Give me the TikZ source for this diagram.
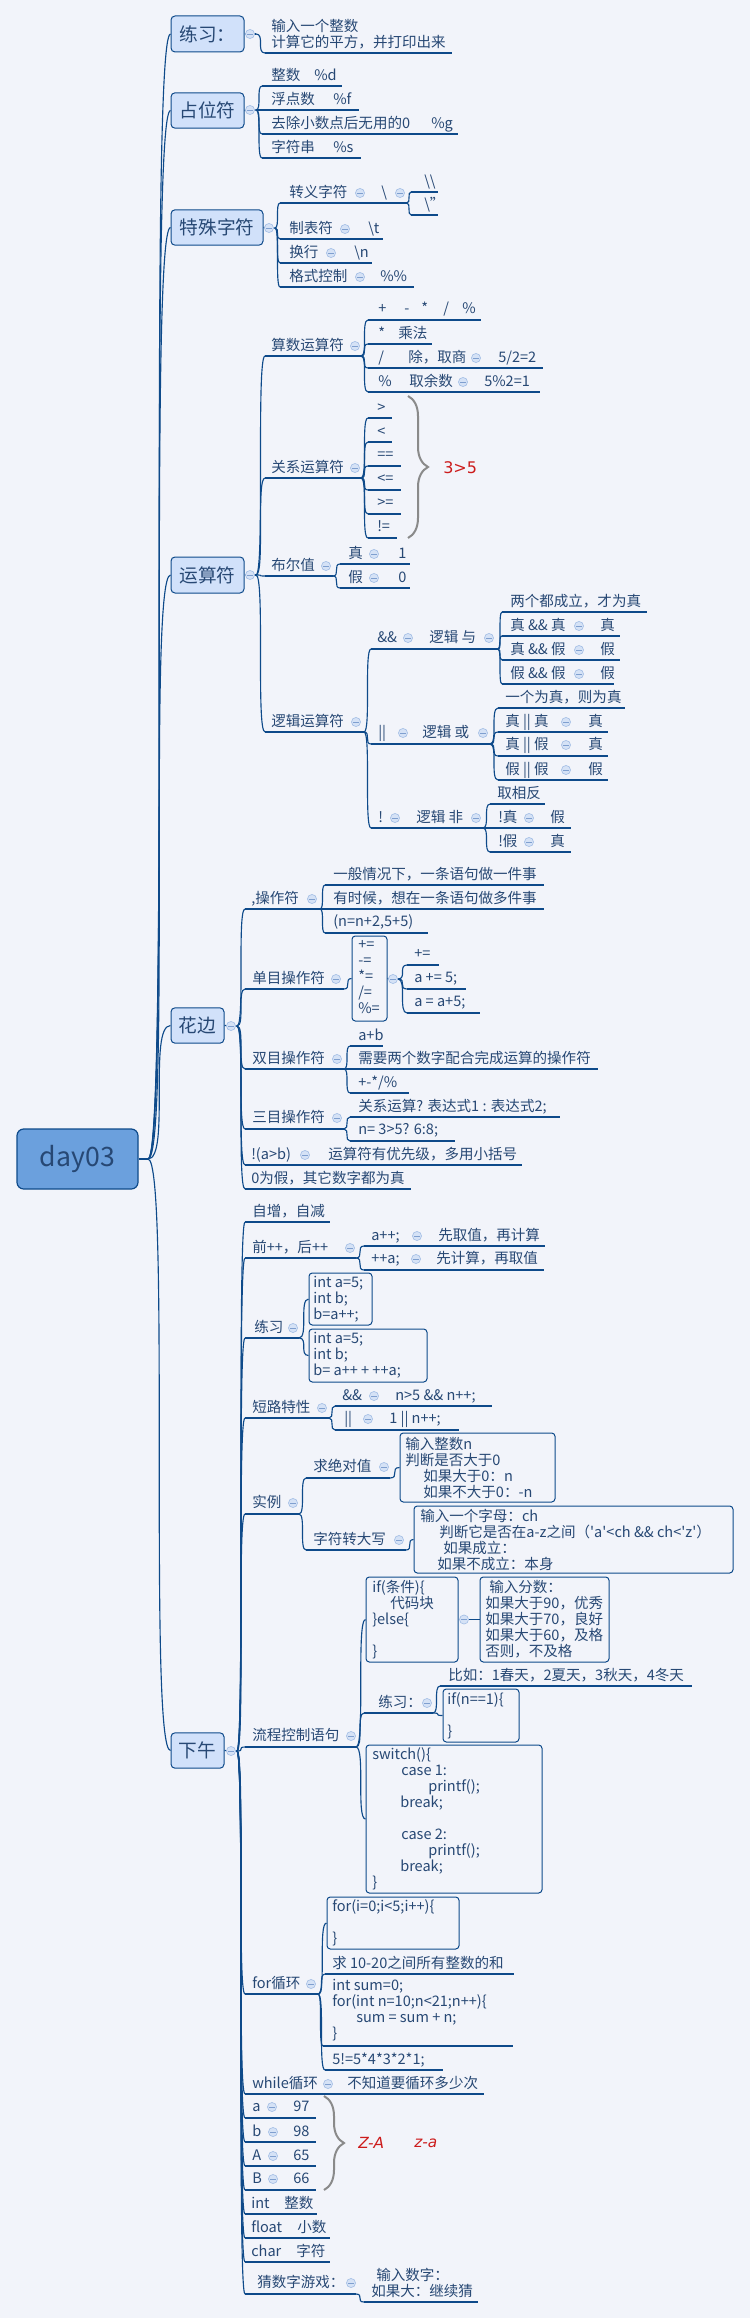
\documentclass[tikz,border=0pt]{standalone}
\usepackage{fontspec}
\setmainfont{Noto Sans CJK SC}
\newfontfamily\redfont{DejaVu Sans}
\usetikzlibrary{decorations.pathreplacing}
\definecolor{bg}{HTML}{F2F4FA}
\definecolor{ln}{HTML}{0E4A8A}
\definecolor{tx}{HTML}{274874}
\definecolor{tpfill}{HTML}{D1E1FA}
\definecolor{rootfill}{HTML}{6BA0DD}
\definecolor{mkfill}{HTML}{D5E2F6}
\definecolor{mkdraw}{HTML}{A7C0E6}
\definecolor{mkline}{HTML}{7F9FCF}
\definecolor{bracegray}{HTML}{8A8A8A}
\definecolor{redt}{HTML}{CC1B1B}
\newcommand\mystrut{\rule[-2.3pt]{0pt}{12pt}}
\newcommand\TXT[3]{\node[txt] (#1) at (#2) {#3};}
\newcommand\MK[2]{\node[mkr] (#1) at (#2) {};}
\newcommand\UL[4]{\coordinate (#1) at (#2,#4);\coordinate (#1e) at (#3,#4);\draw[ulk] (#1) -- (#1e);}
\newcommand\CN[2]{\draw[conn] (#1) .. controls (#2 |- #1) and (#1 |- #2) .. (#2);}
\begin{document}
\begin{tikzpicture}[x=0.75pt,y=-0.75pt,
  txt/.style={anchor=west,inner sep=0pt,text=tx,font=\fontsize{10.9pt}{12pt}\selectfont,align=left,execute at begin node=\mystrut,execute at end node=\mystrut},
  mkr/.style={circle,minimum size=6.8pt,inner sep=0pt,fill=mkfill,draw=mkdraw,line width=0.5pt,
    path picture={\draw[mkline,line width=0.7pt] ([xshift=-1.9pt]path picture bounding box.center) -- ([xshift=1.9pt]path picture bounding box.center);}},
  ulk/.style={ln,line width=0.85pt},
  conn/.style={ln,line width=0.85pt},
  topic/.style={draw=ln,fill=tpfill,rounded corners=3pt,line width=0.75pt,inner sep=0pt,text=tx,font=\fontsize{14pt}{16pt}\selectfont,minimum height=26.5pt},
  cbox/.style={draw=ln,rounded corners=2.5pt,line width=0.75pt,inner sep=0pt},
  bracestyle/.style={decorate,decoration={brace,amplitude=15pt},draw=bracegray,line width=1.5pt},
  redtxt/.style={anchor=west,inner sep=0pt,text=redt,font=\redfont\fontsize{12pt}{14pt}\selectfont}]
\fill[bg] (0,0) rectangle (750,2318);
\useasboundingbox (0,0) rectangle (750,2318);

% root
\node[draw=ln,fill=rootfill,rounded corners=5pt,line width=0.9pt,minimum width=90.75pt,minimum height=45pt,inner sep=0pt,text=tx,font=\fontsize{20pt}{24pt}\selectfont] (root) at (77.5,1159) {day03};
\coordinate (rootp) at (148,1159);
\draw[conn] (root.east) -- (rootp);

% topics
\node[topic,minimum width=54.75pt,minimum height=27pt] (tp1) at (207.5,34) {练习：};
\node[topic,minimum width=54.75pt] (tp2) at (207.5,110.5) {占位符};
\node[topic,minimum width=69pt] (tp3) at (217,227.5) {特殊字符};
\node[topic,minimum width=54.75pt,minimum height=27pt] (tp4) at (207.5,575) {运算符};
\node[topic,minimum width=39.75pt] (tp5) at (197.5,1025.5) {花边};
\node[topic,minimum width=39.75pt] (tp6) at (197.5,1750.5) {下午};
\CN{rootp}{tp1.west}
\CN{rootp}{tp2.west}
\CN{rootp}{tp3.west}
\CN{rootp}{tp4.west}
\CN{rootp}{tp5.west}
\CN{rootp}{tp6.west}

% ---- tp1
\coordinate (p1) at (256,34); \draw[conn] (tp1.east) -- (p1);
\TXT{a1}{271,35}{输入一个整数\\计算它的平方，并打印出来}
\UL{u1}{265}{452}{53}
\CN{p1}{u1}
\MK{m1}{250,34}

% ---- tp2
\coordinate (p2) at (256,110); \draw[conn] (tp2.east) -- (p2);
\TXT{b1}{271,76}{整数} \TXT{b1v}{314,76}{\%d} \UL{ub1}{262}{342}{86}
\TXT{b2}{271,100}{浮点数} \TXT{b2v}{333,100}{\%f} \UL{ub2}{262}{359}{110}
\TXT{b3}{271,124}{去除小数点后无用的0} \TXT{b3v}{431,124}{\%g} \UL{ub3}{262}{458}{134}
\TXT{b4}{271,148}{字符串} \TXT{b4v}{333,148}{\%s} \UL{ub4}{262}{361}{158}
\CN{p2}{ub1} \CN{p2}{ub2} \CN{p2}{ub3} \CN{p2}{ub4}
\MK{m2}{250,110}

% ---- tp3
\coordinate (p3) at (275,228); \draw[conn] (tp3.east) -- (p3);
\TXT{c1}{289,193}{转义字符} \MK{mc1}{360,193} \TXT{c1v}{381,193}{\textbackslash} \MK{mc1b}{400,193}
\UL{uc1}{280}{407}{203}
\TXT{c11}{424,182}{\textbackslash\textbackslash} \UL{uc11}{411}{438}{192}
\TXT{c12}{424,205}{\textbackslash"} \UL{uc12}{411}{438}{215}
\CN{uc1e}{uc11} \CN{uc1e}{uc12}
\TXT{c2}{289,229}{制表符} \MK{mc2}{345,229} \TXT{c2v}{368,229}{\textbackslash t} \UL{uc2}{280}{383}{239}
\TXT{c3}{289,253}{换行} \MK{mc3}{331,253} \TXT{c3v}{354,253}{\textbackslash n} \UL{uc3}{280}{372}{263}
\TXT{c4}{289,277}{格式控制} \MK{mc4}{360,277} \TXT{c4v}{380,277}{\%\%} \UL{uc4}{280}{414}{287}
\CN{p3}{uc1} \CN{p3}{uc2} \CN{p3}{uc3} \CN{p3}{uc4}
\MK{m3}{269,228}

% ---- tp4
\coordinate (p4) at (256,575); \draw[conn] (tp4.east) -- (p4);
\TXT{d1}{271,346}{算数运算符} \MK{md1}{355,346} \UL{ud1}{265}{361}{356}
\TXT{d11a}{378,309}{+} \TXT{d11b}{404,309}{-} \TXT{d11c}{421,309}{*} \TXT{d11d}{443,309}{/} \TXT{d11e}{462,309}{\%} \UL{ud11}{368}{481}{320}
\TXT{d12}{378,334}{*} \TXT{d12v}{398,334}{乘法} \UL{ud12}{368}{432}{344}
\TXT{d13}{378,358}{/} \TXT{d13v}{408,358}{除，取商} \MK{md13}{476,358} \TXT{d13w}{498,358}{5/2=2} \UL{ud13}{368}{543}{368}
\TXT{d14}{378,382}{\%} \TXT{d14v}{409,382}{取余数} \MK{md14}{463,382} \TXT{d14w}{484,382}{5\%2=1} \UL{ud14}{368}{540}{392}
\CN{ud1e}{ud11} \CN{ud1e}{ud12} \CN{ud1e}{ud13} \CN{ud1e}{ud14}

\TXT{d2}{271,468}{关系运算符} \MK{md2}{355,468} \UL{ud2}{265}{361}{478}
\TXT{d21}{377,408}{>} \UL{ud21}{368}{392}{418}
\TXT{d22}{377,432}{<} \UL{ud22}{368}{392}{442}
\TXT{d23}{377,455}{==} \UL{ud23}{368}{401}{466}
\TXT{d24}{377,479}{<=} \UL{ud24}{368}{401}{490}
\TXT{d25}{377,503}{>=} \UL{ud25}{368}{401}{514}
\TXT{d26}{377,527}{!=} \UL{ud26}{368}{397}{538}
\CN{ud2e}{ud21} \CN{ud2e}{ud22} \CN{ud2e}{ud23} \CN{ud2e}{ud24} \CN{ud2e}{ud25} \CN{ud2e}{ud26}
\coordinate (brA) at (408,396); \coordinate (brB) at (408,538);
\draw[bracestyle] (brA) -- (brB);
\node[redtxt] (r1) at (443,468) {3>5};

\TXT{d3}{271,566}{布尔值} \MK{md3}{326,566} \UL{ud3}{265}{333}{576}
\TXT{d31}{348,554}{真} \MK{md31}{374,554} \TXT{d31v}{398,554}{1} \UL{ud31}{340}{410}{564}
\TXT{d32}{348,578}{假} \MK{md32}{374,578} \TXT{d32v}{398,578}{0} \UL{ud32}{340}{410}{588}
\CN{ud3e}{ud31} \CN{ud3e}{ud32}

\TXT{d4}{271,722}{逻辑运算符} \MK{md4}{356,722} \UL{ud4}{265}{364}{732}
\TXT{e1}{377,638}{\&\&} \MK{me1}{408,638} \TXT{e1v}{429,638}{逻辑 与} \MK{me1b}{489,638} \UL{ue1}{371}{498}{649}
\TXT{e11}{510,602}{两个都成立，才为真} \UL{ue11}{502}{647}{612}
\TXT{e12}{510,626}{真 \&\& 真} \MK{me12}{579,626} \TXT{e12v}{600,626}{真} \UL{ue12}{502}{620}{636}
\TXT{e13}{510,650}{真 \&\& 假} \MK{me13}{579,650} \TXT{e13v}{600,650}{假} \UL{ue13}{502}{620}{660}
\TXT{e14}{510,674}{假 \&\& 假} \MK{me14}{579,674} \TXT{e14v}{600,674}{假} \UL{ue14}{502}{614}{684}
\TXT{e2}{378,733}{||} \MK{me2}{403,733} \TXT{e2v}{422,733}{逻辑 或} \MK{me2b}{483,733} \UL{ue2}{371}{490}{744}
\TXT{e21}{505,698}{一个为真，则为真} \UL{ue21}{498}{625}{708}
\TXT{e22}{505,722}{真 || 真} \MK{me22}{566,722} \TXT{e22v}{588,722}{真} \UL{ue22}{498}{608}{732}
\TXT{e23}{505,745}{真 || 假} \MK{me23}{566,745} \TXT{e23v}{588,745}{真} \UL{ue23}{498}{608}{756}
\TXT{e24}{505,770}{假 || 假} \MK{me24}{566,770} \TXT{e24v}{588,770}{假} \UL{ue24}{498}{608}{780}
\TXT{e3}{378,818}{!} \MK{me3}{395,818} \TXT{e3v}{416,818}{逻辑 非} \MK{me3b}{476,818} \UL{ue3}{371}{483}{828}
\TXT{e31}{497,794}{取相反} \UL{ue31}{490}{545}{804}
\TXT{e32}{498,818}{!真} \MK{me32}{529,818} \TXT{e32v}{550,818}{假} \UL{ue32}{490}{571}{828}
\TXT{e33}{498,842}{!假} \MK{me33}{529,842} \TXT{e33v}{550,842}{真} \UL{ue33}{490}{571}{852}
\CN{ud4e}{ue1} \CN{ud4e}{ue2} \CN{ud4e}{ue3}
\CN{ue1e}{ue11} \CN{ue1e}{ue12} \CN{ue1e}{ue13} \CN{ue1e}{ue14}
\CN{ue2e}{ue21} \CN{ue2e}{ue22} \CN{ue2e}{ue23} \CN{ue2e}{ue24}
\CN{ue3e}{ue31} \CN{ue3e}{ue32} \CN{ue3e}{ue33}
\CN{p4}{ud1} \CN{p4}{ud2} \CN{p4}{ud3} \CN{p4}{ud4}
\MK{m4}{250,575}

% ---- tp5
\coordinate (p5) at (237,1026); \draw[conn] (tp5.east) -- (p5);
\TXT{f1}{251,899}{,操作符} \MK{mf1}{312,899} \UL{uf1}{245}{320}{909}
\TXT{f11}{333,875}{一般情况下，一条语句做一件事} \UL{uf11}{325}{544}{885}
\TXT{f12}{333,899}{有时候，想在一条语句做多件事} \UL{uf12}{325}{544}{909}
\TXT{f13}{333,922}{(n=n+2,5+5)} \UL{uf13}{325}{428}{933}
\TXT{f2}{252,979}{单目操作符} \MK{mf2}{336,979} \UL{uf2}{245}{344}{989}
\node[cbox,minimum width=26.25pt,minimum height=63.75pt] (bx1) at (369.5,978.5) {};
\TXT{bx1t}{358,979}{+=\\-=\\{}*=\\/=\\\%=}
\coordinate (q1) at (398,979); \draw[conn] (bx1.east) -- (q1);
\TXT{f21}{414,954}{+=} \UL{uf21}{407}{439}{965}
\TXT{f22}{414,978}{a += 5;} \UL{uf22}{407}{466}{989}
\TXT{f23}{414,1002}{a = a+5;} \UL{uf23}{407}{480}{1013}
\CN{uf2e}{bx1.west}
\CN{q1}{uf21} \CN{q1}{uf22} \CN{q1}{uf23}
\MK{mbx1}{393,979}
\TXT{f3}{252,1059}{双目操作符} \MK{mf3}{337,1059} \UL{uf3}{245}{344}{1069}
\TXT{f31}{358,1036}{a+b} \UL{uf31}{350}{383}{1046}
\TXT{f32}{358,1059}{需要两个数字配合完成运算的操作符} \UL{uf32}{350}{598}{1069}
\TXT{f33}{358,1083}{+-*/\%} \UL{uf33}{350}{409}{1093}
\TXT{f4}{252,1118}{三目操作符} \MK{mf4}{337,1118} \UL{uf4}{245}{344}{1129}
\TXT{f41}{358,1107}{关系运算? 表达式1 : 表达式2;} \UL{uf41}{350}{560}{1117}
\TXT{f42}{358,1130}{n= 3>5? 6:8;} \UL{uf42}{350}{455}{1141}
\TXT{f5}{251,1155}{!(a>b)} \MK{mf5}{305,1155} \TXT{f5v}{328,1155}{运算符有优先级，多用小括号} \UL{uf5}{245}{522}{1165}
\TXT{f6}{251,1179}{0为假，其它数字都为真} \UL{uf6}{245}{411}{1189}
\CN{uf1e}{uf11} \CN{uf1e}{uf12} \CN{uf1e}{uf13}
\CN{uf3e}{uf31} \CN{uf3e}{uf32} \CN{uf3e}{uf33}
\CN{uf4e}{uf41} \CN{uf4e}{uf42}
\CN{p5}{uf1} \CN{p5}{uf2} \CN{p5}{uf3} \CN{p5}{uf4} \CN{p5}{uf5} \CN{p5}{uf6}
\MK{m5}{231,1026}

% ---- tp6
\coordinate (p6) at (237,1751); \draw[conn] (tp6.east) -- (p6);
\TXT{g1}{252,1212}{自增，自减} \UL{ug1}{245}{330}{1222}
\TXT{g2}{252,1248}{前++，后++} \MK{mg2}{350,1248} \UL{ug2}{245}{356}{1258}
\TXT{g21}{371,1236}{a++;} \MK{mg21}{417,1236} \TXT{g21v}{438,1236}{先取值，再计算} \UL{ug21}{364}{545}{1246}
\TXT{g22}{371,1259}{++a;} \MK{mg22}{416,1259} \TXT{g22v}{436,1259}{先计算，再取值} \UL{ug22}{364}{544}{1270}
\TXT{g3}{254,1328}{练习} \MK{mg3}{293,1328} \UL{ug3}{245}{299}{1338}
\node[cbox,minimum width=47.25pt,minimum height=39pt] (bx2) at (340.5,1299) {};
\TXT{bx2t}{313,1299}{int a=5;\\int b;\\b=a++;}
\node[cbox,minimum width=88.5pt,minimum height=39.75pt] (bx3) at (368,1355.5) {};
\TXT{bx3t}{313,1355.5}{int a=5;\\int b;\\b= a++ + ++a;}
\TXT{g4}{252,1408}{短路特性} \MK{mg4}{322,1408} \UL{ug4}{245}{329}{1418}
\TXT{g41}{342,1396}{\&\&} \MK{mg41}{374,1396} \TXT{g41v}{395,1396}{n>5 \&\& n++;} \UL{ug41}{335}{492}{1406}
\TXT{g42}{344,1419}{||} \MK{mg42}{368,1419} \TXT{g42v}{389,1419}{1 || n++;} \UL{ug42}{335}{459}{1430}
\TXT{g5}{252,1503}{实例} \MK{mg5}{293,1503} \UL{ug5}{245}{299}{1514}
\TXT{g51}{313,1467}{求绝对值} \MK{mg51}{384,1467} \UL{ug51}{306}{390}{1478}
\node[cbox,minimum width=116.25pt,minimum height=51.75pt] (bx4) at (477.5,1467.5) {};
\TXT{bx4t}{405,1468.5}{输入整数n\\判断是否大于0\\\hspace*{13.5pt}如果大于0：n\\\hspace*{13.5pt}如果不大于0：-n}
\TXT{g52}{313,1540}{字符转大写} \MK{mg52}{399,1540} \UL{ug52}{306}{406}{1550}
\node[cbox,minimum width=239.25pt,minimum height=50.25pt] (bx5) at (573.5,1539.5) {};
\TXT{bx5t}{420,1540.5}{输入一个字母：ch\\\hspace*{14.25pt}判断它是否在a-z之间（\textquotesingle a\textquotesingle<ch \&\& ch<\textquotesingle z\textquotesingle）\\\hspace*{17.25pt}如果成立：\\\hspace*{12.75pt}如果不成立：本身}
\TXT{g6}{252,1736}{流程控制语句} \MK{mg6}{351,1736} \UL{ug6}{245}{356}{1747}
\node[cbox,minimum width=69pt,minimum height=63.75pt] (bx6) at (412,1619.5) {};
\TXT{bx6t}{372,1620}{if(条件)\{\\\hspace*{13.5pt}代码块\\\}else\{\\~\\\}}
\node[cbox,minimum width=96.75pt,minimum height=63.75pt] (bx7) at (544.5,1619.5) {};
\TXT{bx7t}{485,1620}{\hspace*{3pt}输入分数：\\如果大于90，优秀\\如果大于70，良好\\如果大于60，及格\\否则，不及格}
\draw[conn] (bx6.east) -- (bx7.west);
\MK{mbx6}{464,1619.5}
\TXT{g61}{378,1703}{练习：} \MK{mg61}{427,1703} \UL{ug61}{364}{433}{1713}
\TXT{g611}{448,1676}{比如：1春天，2夏天，3秋天，4冬天} \UL{ug611}{440}{692}{1686}
\node[cbox,minimum width=57pt,minimum height=39.75pt] (bx8) at (481,1715.5) {};
\TXT{bx8t}{447,1716}{if(n==1)\{\\~\\\}}
\node[cbox,minimum width=132pt,minimum height=111pt] (bx9) at (454,1819) {};
\TXT{bx9t}{372,1819}{switch()\{\\\hspace*{21.75pt}case 1:\\\hspace*{42pt}printf();\\\hspace*{21pt}break;\\~\\\hspace*{21.75pt}case 2:\\\hspace*{42pt}printf();\\\hspace*{21pt}break;\\\}}
\TXT{g7}{252,1984}{for循环} \MK{mg7}{311,1984} \UL{ug7}{245}{318}{1994}
\node[cbox,minimum width=99pt,minimum height=39pt] (bx10) at (393,1923) {};
\TXT{bx10t}{332,1923}{for(i=0;i<5;i++)\{\\~\\\}}
\TXT{g72}{332,1964}{求 10-20之间所有整数的和} \UL{ug72}{325}{514}{1974}
\TXT{g73}{332,2010.5}{int sum=0;\\for(int n=10;n<21;n++)\{\\\hspace*{18pt}sum = sum + n;\\\}} \UL{ug73}{323}{513}{2046}
\TXT{g74}{332,2060}{5!=5*4*3*2*1;} \UL{ug74}{325}{443}{2070}
\TXT{g8}{252,2084}{while循环} \MK{mg8}{328,2084} \TXT{g8v}{347,2084}{不知道要循环多少次} \UL{ug8}{245}{484}{2094}
\TXT{g9}{252,2107}{a} \MK{mg9}{272,2107} \TXT{g9v}{293,2107}{97} \UL{ug9}{245}{316}{2118}
\TXT{g10}{252,2132}{b} \MK{mg10}{273,2132} \TXT{g10v}{293,2132}{98} \UL{ug10}{245}{316}{2142}
\TXT{g11}{252,2156}{A} \MK{mg11}{273,2156} \TXT{g11v}{293,2156}{65} \UL{ug11}{245}{316}{2166}
\TXT{g12}{252,2179}{B} \MK{mg12}{273,2179} \TXT{g12v}{293,2179}{66} \UL{ug12}{245}{316}{2190}
\coordinate (brC) at (324,2096); \coordinate (brD) at (324,2190);
\draw[bracestyle] (brC) -- (brD);
\node[redtxt,font=\redfont\itshape\fontsize{11.5pt}{14pt}\selectfont] (r2) at (358,2143) {Z-A};
\node[redtxt,font=\redfont\itshape\fontsize{11.5pt}{14pt}\selectfont] (r3) at (414,2143) {z-a};
\TXT{g13}{251,2204}{int} \TXT{g13v}{284,2204}{整数} \UL{ug13}{245}{317}{2214}
\TXT{g14}{251,2228}{float} \TXT{g14v}{297,2228}{小数} \UL{ug14}{245}{330}{2238}
\TXT{g15}{251,2252}{char} \TXT{g15v}{296,2252}{字符} \UL{ug15}{245}{330}{2262}
\TXT{g16}{257,2283}{猜数字游戏：} \MK{mg16}{351,2283} \UL{ug16}{245}{356}{2294}
\TXT{g161}{371,2284}{\hspace*{3.75pt}输入数字：\\如果大：继续猜} \UL{ug161}{364}{478}{2302}
\CN{ug2e}{ug21} \CN{ug2e}{ug22}
\CN{ug3e}{bx2.west} \CN{ug3e}{bx3.west}
\CN{ug4e}{ug41} \CN{ug4e}{ug42}
\CN{ug5e}{ug51} \CN{ug5e}{ug52}
\CN{ug51e}{bx4.west} \CN{ug52e}{bx5.west}
\CN{ug6e}{bx6.west} \CN{ug6e}{ug61} \CN{ug6e}{bx9.west}
\CN{ug61e}{ug611} \CN{ug61e}{bx8.west}
\CN{ug7e}{bx10.west} \CN{ug7e}{ug72} \CN{ug7e}{ug73} \CN{ug7e}{ug74}
\CN{ug16e}{ug161}
\CN{p6}{ug1} \CN{p6}{ug2} \CN{p6}{ug3} \CN{p6}{ug4} \CN{p6}{ug5} \CN{p6}{ug6} \CN{p6}{ug7} \CN{p6}{ug8}
\CN{p6}{ug9} \CN{p6}{ug10} \CN{p6}{ug11} \CN{p6}{ug12} \CN{p6}{ug13} \CN{p6}{ug14} \CN{p6}{ug15} \CN{p6}{ug16}
\MK{m6}{231,1751}
\end{tikzpicture}
\end{document}
